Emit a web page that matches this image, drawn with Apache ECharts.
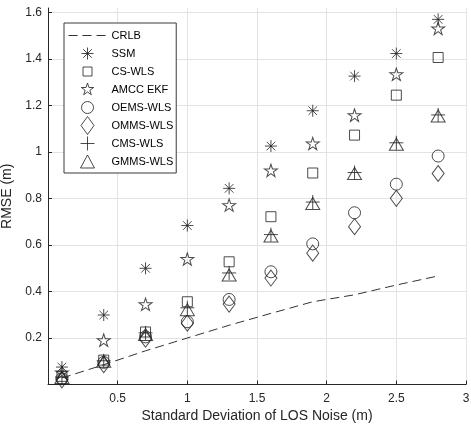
<!DOCTYPE html>
<html>
<head>
    <meta charset="utf-8">
    <title>RMSE vs LOS noise</title>
    <script src="https://cdn.jsdelivr.net/npm/echarts@6/dist/echarts.min.js"></script>
    <style>
        html, body { margin: 0; padding: 0; background: #fff; }
        #chart { width: 471px; height: 431px; }
    </style>
</head>
<body>
<div id="chart"></div>
<script>
    // x values: std of LOS noise (m)
    var noiseStd = [0.1, 0.4, 0.7, 1.0, 1.3, 1.6, 1.9, 2.2, 2.5, 2.8];

    // RMSE (m) per method
    var crlb    = [0.028, 0.085, 0.145, 0.200, 0.255, 0.306, 0.356, 0.386, 0.428, 0.467];
    var ssm     = [0.075, 0.299, 0.500, 0.684, 0.844, 1.026, 1.178, 1.327, 1.424, 1.571];
    var csWls   = [0.035, 0.105, 0.226, 0.356, 0.528, 0.722, 0.910, 1.073, 1.245, 1.407];
    var amccEkf = [0.052, 0.191, 0.345, 0.540, 0.772, 0.921, 1.037, 1.159, 1.335, 1.532];
    var oemsWls = [0.025, 0.095, 0.205, 0.270, 0.366, 0.485, 0.605, 0.739, 0.862, 0.983];
    var ommsWls = [0.020, 0.085, 0.195, 0.264, 0.346, 0.458, 0.565, 0.679, 0.801, 0.908];
    var cmsWls  = [0.032, 0.102, 0.222, 0.330, 0.480, 0.645, 0.785, 0.912, 1.040, 1.160];
    var gmmsWls = [0.030, 0.100, 0.215, 0.322, 0.471, 0.639, 0.779, 0.908, 1.034, 1.155];

    var yTicks = [0.2, 0.4, 0.6, 0.8, 1, 1.2, 1.4, 1.6];
    var xTicks = [0.5, 1, 1.5, 2, 2.5, 3];

    var ink = '#262626';
    var font = '"Liberation Sans", Arial, sans-serif';

    // marker shapes (stroke only)
    var mk = {
        asterisk: 'path://M0,-6L0,6M-6,0L6,0M-4.3,-4.3L4.3,4.3M-4.3,4.3L4.3,-4.3',
        square: 'path://M-5,-5L5,-5L5,5L-5,5Z',
        star: 'path://M0,-10L2.245,-3.09L9.51,-3.09L3.633,1.18L5.878,8.09L0,3.82L-5.878,8.09L-3.633,1.18L-9.51,-3.09L-2.245,-3.09Z',
        circle: 'circle',
        diamond: 'path://M0,-8L6,0L0,8L-6,0Z',
        plus: 'path://M0,-7L0,7M-7,0L7,0',
        triangle: 'path://M0,-6L7,6L-7,6Z'
    };
    // legend icons padded to an 18px tall box so each keeps its own size
    var pad = 'M0,-9M0,9';
    var legendIcon = {
        dash: 'path://M-19,-9M19,9M-19,0L-10,0M-5,0L4,0M9,0L18,0',
        asterisk: 'path://' + pad + 'M0,-6L0,6M-6,0L6,0M-4.3,-4.3L4.3,4.3M-4.3,4.3L4.3,-4.3',
        square: 'path://' + pad + 'M-4.5,-4.5L4.5,-4.5L4.5,4.5L-4.5,4.5Z',
        star: 'path://' + pad + 'M0,-6.5L1.46,-2.0L6.18,-2.0L2.36,0.77L3.82,5.26L0,2.48L-3.82,5.26L-2.36,0.77L-6.18,-2.0L-1.46,-2.0Z',
        circle: 'path://' + pad + 'M6,0A6,6,0,1,1,-6,0A6,6,0,1,1,6,0Z',
        diamond: 'path://' + pad + 'M0,-9L6.5,0L0,9L-6.5,0Z',
        plus: 'path://' + pad + 'M0,-7L0,7M-7,0L7,0',
        triangle: 'path://' + pad + 'M0,-6.5L7,6.5L-7,6.5Z'
    };

    function pairs(ys) {
        return noiseStd.map(function (x, i) { return [x, ys[i]]; });
    }

    function scatter(name, ys, symbol, size) {
        return {
            name: name,
            type: 'scatter',
            data: pairs(ys),
            symbol: symbol,
            symbolSize: size,
            itemStyle: { color: 'transparent', borderColor: '#1f1f1f', borderWidth: 1 },
            emphasis: { disabled: true }
        };
    }

    function isTick(v, list) {
        return list.some(function (t) { return Math.abs(t - v) < 1e-6; });
    }

    var chart = echarts.init(document.getElementById('chart'));

    var option = {
        animation: false,
        textStyle: { fontFamily: font },
        grid: { left: 48, right: 5, top: 8, bottom: 46.5, outerBoundsMode: 'none', containLabel: false },
        xAxis: {
            type: 'value',
            min: 0,
            max: 3,
            interval: 0.5,
            name: 'Standard Deviation of LOS Noise (m)',
            nameLocation: 'middle',
            nameGap: 25,
            nameTextStyle: { color: ink, fontSize: 14, fontFamily: font },
            axisLine: { show: true, lineStyle: { color: ink, width: 1 } },
            axisTick: { show: true, inside: true, length: 4, lineStyle: { color: ink } },
            axisLabel: {
                color: ink, fontSize: 12, margin: 8, fontFamily: font,
                formatter: function (v) { return isTick(v, xTicks) ? String(v) : ''; }
            },
            splitLine: { show: true, showMinLine: false, lineStyle: { color: '#e3e3e3', width: 1 } }
        },
        yAxis: {
            type: 'value',
            min: 0,
            max: 1.62,
            interval: 0.2,
            name: 'RMSE (m)',
            nameLocation: 'middle',
            nameGap: 29,
            nameTextStyle: { color: ink, fontSize: 14, fontFamily: font },
            axisLine: { show: true, lineStyle: { color: ink, width: 1 } },
            axisTick: { show: true, inside: true, length: 4, lineStyle: { color: ink } },
            axisLabel: {
                color: ink, fontSize: 12, margin: 6, fontFamily: font, showMaxLabel: false,
                formatter: function (v) { return isTick(v, yTicks) ? String(+v.toFixed(1)) : ''; }
            },
            splitLine: { show: true, showMinLine: false, showMaxLine: false, lineStyle: { color: '#e3e3e3', width: 1 } }
        },
        legend: {
            orient: 'vertical',
            left: 64,
            top: 23,
            padding: [3, 3, 2, 4],
            itemWidth: 38,
            itemHeight: 18,
            itemGap: -1,
            backgroundColor: '#fff',
            borderColor: '#3a3a3a',
            borderWidth: 1,
            borderRadius: 0,
            selectedMode: false,
            textStyle: { color: '#000', fontSize: 11, fontFamily: font },
            itemStyle: { borderWidth: 1 },
            lineStyle: { width: 1 },
            data: [
                {
                    name: 'CRLB',
                    icon: legendIcon.dash,
                    itemStyle: { color: '#333', borderColor: '#333', borderWidth: 1 }
                },
                { name: 'SSM', icon: legendIcon.asterisk },
                { name: 'CS-WLS', icon: legendIcon.square },
                { name: 'AMCC EKF', icon: legendIcon.star },
                { name: 'OEMS-WLS', icon: legendIcon.circle },
                { name: 'OMMS-WLS', icon: legendIcon.diamond },
                { name: 'CMS-WLS', icon: legendIcon.plus },
                { name: 'GMMS-WLS', icon: legendIcon.triangle }
            ]
        },
        series: [
            {
                name: 'CRLB',
                type: 'line',
                data: pairs(crlb),
                symbol: 'none',
                lineStyle: { color: '#333', width: 1, type: [9, 5] },
                itemStyle: { color: '#333' },
                emphasis: { disabled: true }
            },
            scatter('SSM', ssm, mk.asterisk, [12, 12]),
            scatter('CS-WLS', csWls, mk.square, [10, 10]),
            scatter('AMCC EKF', amccEkf, mk.star, [13, 12.4]),
            scatter('OEMS-WLS', oemsWls, mk.circle, 12),
            scatter('OMMS-WLS', ommsWls, mk.diamond, [12, 16]),
            scatter('CMS-WLS', cmsWls, mk.plus, [14, 14]),
            scatter('GMMS-WLS', gmmsWls, mk.triangle, [14, 12])
        ]
    };

    chart.setOption(option);
</script>
</body>
</html>
